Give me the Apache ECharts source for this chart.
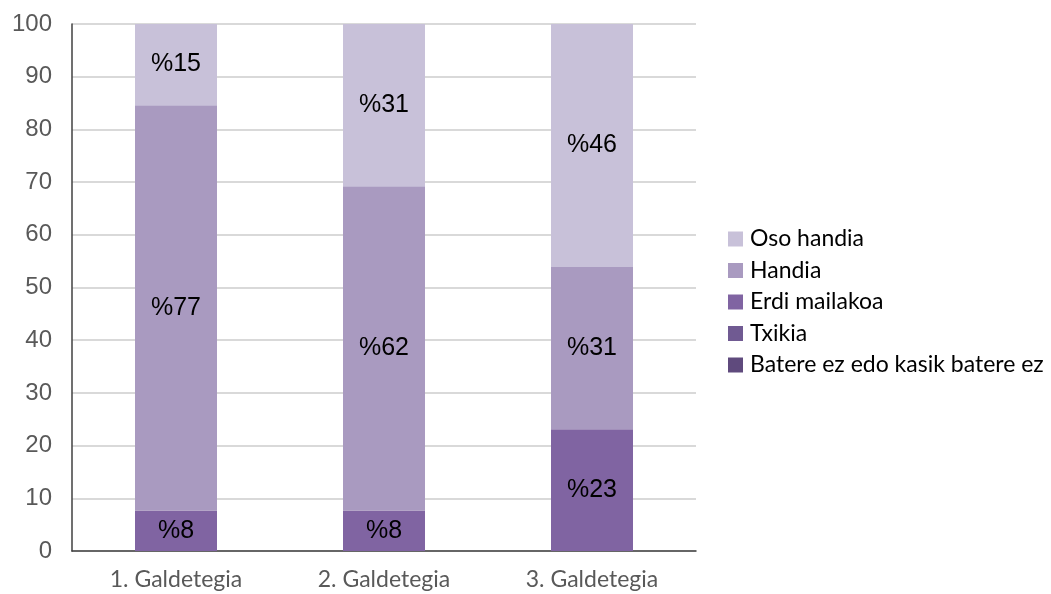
<!DOCTYPE html>
<html>
<head>
<meta charset="utf-8">
<script src="https://cdn.jsdelivr.net/npm/echarts@6/dist/echarts.min.js"></script>
<style>
  html, body { margin: 0; padding: 0; background: #fff; }
  #chart { width: 1051px; height: 594px; }
</style>
</head>
<body>
<div id="chart"></div>
<script>
'use strict'

const categories = ['1. Galdetegia', '2. Galdetegia', '3. Galdetegia']
const yTicks = [0, 10, 20, 30, 40, 50, 60, 70, 80, 90, 100]

// bottom to top in the stack
const bateree = [0, 0, 0]
const txikia = [0, 0, 0]
const erdiMailakoa = [7.7, 7.7, 23.1]
const handia = [76.9, 61.5, 30.8]
const osoHandia = [15.4, 30.8, 46.1]

const seriesDefs = [
  { name: 'Batere ez edo kasik batere ez', data: bateree, color: '#5f4a7d' },
  { name: 'Txikia', data: txikia, color: '#705a92' },
  { name: 'Erdi mailakoa', data: erdiMailakoa, color: '#8064a2' },
  { name: 'Handia', data: handia, color: '#a99ac0' },
  { name: 'Oso handia', data: osoHandia, color: '#c8c1d9' }
]

const chart = echarts.init(document.getElementById('chart'))

chart.setOption({
  animation: false,
  grid: { left: 72, top: 24, width: 624, height: 527, containLabel: false },
  legend: {
    orient: 'vertical',
    left: 723,
    top: 222,
    itemWidth: 15,
    itemHeight: 15,
    itemGap: 7.5,
    icon: 'rect',
    data: ['Oso handia', 'Handia', 'Erdi mailakoa', 'Txikia', 'Batere ez edo kasik batere ez'],
    textStyle: { fontFamily: 'Lato', fontSize: 23, color: '#000', lineHeight: 24, padding: [0, 0, 0, 2] }
  },
  xAxis: {
    type: 'category',
    data: categories,
    axisLine: { lineStyle: { color: '#404040', width: 1.5 } },
    axisTick: { show: false },
    axisLabel: { fontFamily: 'Lato', fontSize: 23, color: '#595959', margin: 17 }
  },
  yAxis: {
    type: 'value',
    min: 0,
    max: yTicks[yTicks.length - 1],
    interval: yTicks[1] - yTicks[0],
    axisLine: { show: true, lineStyle: { color: '#404040', width: 1.5 } },
    axisTick: { show: false },
    splitLine: { lineStyle: { color: '#d9d9d9', width: 2 } },
    axisLabel: { fontFamily: 'Liberation Sans', fontSize: 24, color: '#595959', margin: 20 }
  },
  series: seriesDefs.map(s => ({
    name: s.name,
    type: 'bar',
    stack: 'total',
    barWidth: 82,
    data: s.data,
    itemStyle: { color: s.color },
    label: {
      show: true,
      position: 'inside',
      fontFamily: 'Liberation Sans',
      fontSize: 25,
      color: '#000',
      formatter: p => (p.value > 0 ? '%' + Math.round(p.value) : '')
    }
  }))
})
</script>
</body>
</html>
